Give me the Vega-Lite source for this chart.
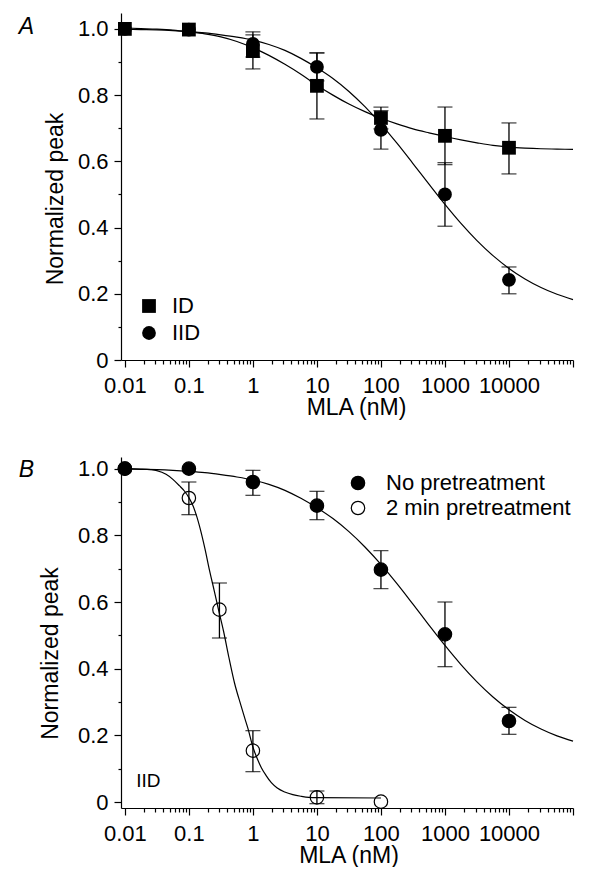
{
  "$schema": "https://vega.github.io/schema/vega-lite/v6.json",
  "autosize": {"type": "pad"},
  "padding": {"left": 18, "top": 13, "right": 5, "bottom": 0},
  "background": "white",
  "bounds": "flush",
  "spacing": 97,
  "datasets": {
    "curvesA": [
      {"s": "ID", "x": 0.01, "y": 1.003}, {"s": "ID", "x": 0.01778, "y": 1.001}, {"s": "ID", "x": 0.03162, "y": 0.999}, {"s": "ID", "x": 0.05623, "y": 0.996},
      {"s": "ID", "x": 0.1, "y": 0.991}, {"s": "ID", "x": 0.1778, "y": 0.985}, {"s": "ID", "x": 0.3162, "y": 0.976}, {"s": "ID", "x": 0.5623, "y": 0.962},
      {"s": "ID", "x": 1, "y": 0.943}, {"s": "ID", "x": 1.778, "y": 0.92}, {"s": "ID", "x": 3.162, "y": 0.893}, {"s": "ID", "x": 5.623, "y": 0.863},
      {"s": "ID", "x": 10, "y": 0.83}, {"s": "ID", "x": 17.78, "y": 0.8}, {"s": "ID", "x": 31.62, "y": 0.773}, {"s": "ID", "x": 56.23, "y": 0.75},
      {"s": "ID", "x": 100, "y": 0.73}, {"s": "ID", "x": 177.8, "y": 0.713}, {"s": "ID", "x": 316.2, "y": 0.698}, {"s": "ID", "x": 562.3, "y": 0.686},
      {"s": "ID", "x": 1000, "y": 0.675}, {"s": "ID", "x": 1778, "y": 0.665}, {"s": "ID", "x": 3162, "y": 0.656}, {"s": "ID", "x": 5623, "y": 0.648},
      {"s": "ID", "x": 10000, "y": 0.643}, {"s": "ID", "x": 17783, "y": 0.64}, {"s": "ID", "x": 31623, "y": 0.638}, {"s": "ID", "x": 56234, "y": 0.637},
      {"s": "ID", "x": 100000, "y": 0.636},
      {"s": "IID", "x": 0.01, "y": 0.999}, {"s": "IID", "x": 0.01778, "y": 0.998}, {"s": "IID", "x": 0.03162, "y": 0.997}, {"s": "IID", "x": 0.05623, "y": 0.995},
      {"s": "IID", "x": 0.1, "y": 0.992}, {"s": "IID", "x": 0.1778, "y": 0.988}, {"s": "IID", "x": 0.3162, "y": 0.982}, {"s": "IID", "x": 0.5623, "y": 0.975},
      {"s": "IID", "x": 1, "y": 0.966}, {"s": "IID", "x": 1.778, "y": 0.953}, {"s": "IID", "x": 3.162, "y": 0.935}, {"s": "IID", "x": 5.623, "y": 0.911},
      {"s": "IID", "x": 10, "y": 0.8826}, {"s": "IID", "x": 17.78, "y": 0.8502}, {"s": "IID", "x": 31.62, "y": 0.8111}, {"s": "IID", "x": 56.23, "y": 0.7651},
      {"s": "IID", "x": 100, "y": 0.7126}, {"s": "IID", "x": 177.8, "y": 0.6548}, {"s": "IID", "x": 316.2, "y": 0.5934}, {"s": "IID", "x": 562.3, "y": 0.5309},
      {"s": "IID", "x": 1000, "y": 0.4698}, {"s": "IID", "x": 1778, "y": 0.4124}, {"s": "IID", "x": 3162, "y": 0.3605}, {"s": "IID", "x": 5623, "y": 0.3151},
      {"s": "IID", "x": 10000, "y": 0.2766}, {"s": "IID", "x": 17783, "y": 0.2448}, {"s": "IID", "x": 31623, "y": 0.219}, {"s": "IID", "x": 56234, "y": 0.1985},
      {"s": "IID", "x": 100000, "y": 0.1824}
    ],
    "pointsA": [
      {"s": "IID", "x": 0.01, "y": 1.0}, {"s": "IID", "x": 0.1, "y": 0.998}, {"s": "IID", "x": 1, "y": 0.955, "lo": 0.915, "hi": 0.991},
      {"s": "IID", "x": 10, "y": 0.885, "lo": 0.843, "hi": 0.927}, {"s": "IID", "x": 100, "y": 0.695, "lo": 0.637, "hi": 0.753},
      {"s": "IID", "x": 1000, "y": 0.5, "lo": 0.404, "hi": 0.596}, {"s": "IID", "x": 10000, "y": 0.242, "lo": 0.2, "hi": 0.281},
      {"s": "ID", "x": 0.01, "y": 1.0}, {"s": "ID", "x": 0.1, "y": 0.998}, {"s": "ID", "x": 1, "y": 0.933, "lo": 0.879, "hi": 0.982},
      {"s": "ID", "x": 10, "y": 0.828, "lo": 0.728, "hi": 0.928}, {"s": "ID", "x": 100, "y": 0.731, "lo": 0.698, "hi": 0.764},
      {"s": "ID", "x": 1000, "y": 0.677, "lo": 0.59, "hi": 0.764}, {"s": "ID", "x": 10000, "y": 0.641, "lo": 0.562, "hi": 0.716}
    ],
    "curvesB": [
      {"s": "No pretreatment", "x": 0.01, "y": 0.999}, {"s": "No pretreatment", "x": 0.01778, "y": 0.998}, {"s": "No pretreatment", "x": 0.03162, "y": 0.997}, {"s": "No pretreatment", "x": 0.05623, "y": 0.995},
      {"s": "No pretreatment", "x": 0.1, "y": 0.992}, {"s": "No pretreatment", "x": 0.1778, "y": 0.988}, {"s": "No pretreatment", "x": 0.3162, "y": 0.982}, {"s": "No pretreatment", "x": 0.5623, "y": 0.975},
      {"s": "No pretreatment", "x": 1, "y": 0.966}, {"s": "No pretreatment", "x": 1.778, "y": 0.953}, {"s": "No pretreatment", "x": 3.162, "y": 0.935}, {"s": "No pretreatment", "x": 5.623, "y": 0.911},
      {"s": "No pretreatment", "x": 10, "y": 0.8826}, {"s": "No pretreatment", "x": 17.78, "y": 0.8502}, {"s": "No pretreatment", "x": 31.62, "y": 0.8111}, {"s": "No pretreatment", "x": 56.23, "y": 0.7651},
      {"s": "No pretreatment", "x": 100, "y": 0.7126}, {"s": "No pretreatment", "x": 177.8, "y": 0.6548}, {"s": "No pretreatment", "x": 316.2, "y": 0.5934}, {"s": "No pretreatment", "x": 562.3, "y": 0.5309},
      {"s": "No pretreatment", "x": 1000, "y": 0.4698}, {"s": "No pretreatment", "x": 1778, "y": 0.4124}, {"s": "No pretreatment", "x": 3162, "y": 0.3605}, {"s": "No pretreatment", "x": 5623, "y": 0.3151},
      {"s": "No pretreatment", "x": 10000, "y": 0.2766}, {"s": "No pretreatment", "x": 17783, "y": 0.2448}, {"s": "No pretreatment", "x": 31623, "y": 0.219}, {"s": "No pretreatment", "x": 56234, "y": 0.1985},
      {"s": "No pretreatment", "x": 100000, "y": 0.1824},
      {"s": "2 min pretreatment", "x": 0.01, "y": 1.0}, {"s": "2 min pretreatment", "x": 0.0178, "y": 0.999}, {"s": "2 min pretreatment", "x": 0.0255, "y": 0.997},
      {"s": "2 min pretreatment", "x": 0.0316, "y": 0.994}, {"s": "2 min pretreatment", "x": 0.044, "y": 0.983}, {"s": "2 min pretreatment", "x": 0.0562, "y": 0.968},
      {"s": "2 min pretreatment", "x": 0.071, "y": 0.949}, {"s": "2 min pretreatment", "x": 0.085, "y": 0.933}, {"s": "2 min pretreatment", "x": 0.1, "y": 0.913},
      {"s": "2 min pretreatment", "x": 0.115, "y": 0.89}, {"s": "2 min pretreatment", "x": 0.13, "y": 0.862}, {"s": "2 min pretreatment", "x": 0.15, "y": 0.82},
      {"s": "2 min pretreatment", "x": 0.178, "y": 0.76}, {"s": "2 min pretreatment", "x": 0.21, "y": 0.695}, {"s": "2 min pretreatment", "x": 0.25, "y": 0.632},
      {"s": "2 min pretreatment", "x": 0.29, "y": 0.577}, {"s": "2 min pretreatment", "x": 0.35, "y": 0.51}, {"s": "2 min pretreatment", "x": 0.42, "y": 0.435},
      {"s": "2 min pretreatment", "x": 0.516, "y": 0.357}, {"s": "2 min pretreatment", "x": 0.65, "y": 0.29}, {"s": "2 min pretreatment", "x": 0.75, "y": 0.25},
      {"s": "2 min pretreatment", "x": 0.838, "y": 0.22}, {"s": "2 min pretreatment", "x": 1.0, "y": 0.165}, {"s": "2 min pretreatment", "x": 1.18, "y": 0.128},
      {"s": "2 min pretreatment", "x": 1.355, "y": 0.103}, {"s": "2 min pretreatment", "x": 1.6, "y": 0.08}, {"s": "2 min pretreatment", "x": 1.94, "y": 0.058},
      {"s": "2 min pretreatment", "x": 2.4, "y": 0.042}, {"s": "2 min pretreatment", "x": 3.14, "y": 0.03}, {"s": "2 min pretreatment", "x": 4.2, "y": 0.022},
      {"s": "2 min pretreatment", "x": 5.74, "y": 0.017}, {"s": "2 min pretreatment", "x": 7.5, "y": 0.014}, {"s": "2 min pretreatment", "x": 10, "y": 0.013},
      {"s": "2 min pretreatment", "x": 100, "y": 0.012}
    ],
    "pointsB": [
      {"s": "2 min pretreatment", "x": 0.01, "y": 1.0}, {"s": "2 min pretreatment", "x": 0.1, "y": 0.912, "lo": 0.862, "hi": 0.96},
      {"s": "2 min pretreatment", "x": 0.3, "y": 0.577, "lo": 0.492, "hi": 0.657}, {"s": "2 min pretreatment", "x": 1, "y": 0.154, "lo": 0.091, "hi": 0.214},
      {"s": "2 min pretreatment", "x": 10, "y": 0.014, "lo": -0.005, "hi": 0.033}, {"s": "2 min pretreatment", "x": 100, "y": 0.001},
      {"s": "No pretreatment", "x": 0.01, "y": 1.0}, {"s": "No pretreatment", "x": 0.1, "y": 1.0}, {"s": "No pretreatment", "x": 1, "y": 0.96, "lo": 0.92, "hi": 0.995},
      {"s": "No pretreatment", "x": 10, "y": 0.889, "lo": 0.847, "hi": 0.932}, {"s": "No pretreatment", "x": 100, "y": 0.697, "lo": 0.64, "hi": 0.754},
      {"s": "No pretreatment", "x": 1000, "y": 0.503, "lo": 0.406, "hi": 0.6}, {"s": "No pretreatment", "x": 10000, "y": 0.243, "lo": 0.203, "hi": 0.284}
    ]
  },
  "vconcat": [
    {
      "width": 452,
      "height": 347,
      "resolve": {"axis": {"x": "independent", "y": "independent"}},
      "layer": [
        {
          "data": {"name": "curvesA"},
          "mark": {"type": "line", "color": "black", "strokeWidth": 1.2, "interpolate": "monotone"},
          "encoding": {
            "x": {"field": "x", "type": "quantitative", "scale": {"type": "log", "domain": [0.0087, 100000], "nice": false},
                  "axis": {"orient": "bottom", "values": [0.01, 0.1, 1, 10, 100, 1000, 10000, 100000], "tickSize": 7, "labelPadding": 8, "labelFlush": false, "labelOverlap": false,
                           "labelExpr": "datum.value > 50000 ? '' : toString(datum.value)", "title": "MLA (nM)", "titleX": 235, "titleY": 54, "titleBaseline": "alphabetic", "titleAlign": "center", "grid": false}},
            "y": {"field": "y", "type": "quantitative", "scale": {"domain": [0, 1.048], "nice": false, "zero": false},
                  "axis": {"orient": "left", "values": [0, 0.2, 0.4, 0.6, 0.8, 1], "tickSize": 7, "labelPadding": 6, "labelExpr": "datum.value == 0 ? '0' : format(datum.value, '.1f')",
                           "title": "Normalized peak", "titleX": -58.5, "titleY": 185.5, "titleAngle": 270, "titleBaseline": "alphabetic", "titleAlign": "center", "grid": false}},
            "detail": {"field": "s"}
          }
        },
        {
          "data": {"name": "pointsA"},
          "transform": [{"filter": "isValid(datum.lo)"}],
          "mark": {"type": "rule", "color": "black", "strokeWidth": 1.3},
          "encoding": {
            "x": {"field": "x", "type": "quantitative", "axis": {"orient": "bottom", "values": [0.02,0.03,0.04,0.05,0.06,0.07,0.08,0.09,0.2,0.3,0.4,0.5,0.6,0.7,0.8,0.9,2,3,4,5,6,7,8,9,20,30,40,50,60,70,80,90,200,300,400,500,600,700,800,900,2000,3000,4000,5000,6000,7000,8000,9000,20000,30000,40000,50000,60000,70000,80000,90000], "tickSize": 4, "labels": false, "domain": false, "title": null, "grid": false}},
            "y": {"field": "lo", "type": "quantitative", "axis": {"orient": "left", "values": [0.1, 0.3, 0.5, 0.7, 0.9], "tickSize": 3, "labels": false, "domain": false, "title": null, "grid": false}},
            "y2": {"field": "hi"}
          }
        },
        {
          "data": {"name": "pointsA"},
          "transform": [{"filter": "isValid(datum.lo)"}],
          "mark": {"type": "tick", "orient": "horizontal", "color": "black", "size": 15, "thickness": 1.3},
          "encoding": {
            "x": {"field": "x", "type": "quantitative", "axis": null},
            "y": {"field": "lo", "type": "quantitative", "axis": null}
          }
        },
        {
          "data": {"name": "pointsA"},
          "transform": [{"filter": "isValid(datum.hi)"}],
          "mark": {"type": "tick", "orient": "horizontal", "color": "black", "size": 15, "thickness": 1.3},
          "encoding": {
            "x": {"field": "x", "type": "quantitative", "axis": null},
            "y": {"field": "hi", "type": "quantitative", "axis": null}
          }
        },
        {
          "data": {"name": "pointsA"},
          "mark": {"type": "point", "filled": true, "color": "black", "size": 190, "opacity": 1},
          "encoding": {
            "x": {"field": "x", "type": "quantitative", "axis": null},
            "y": {"field": "y", "type": "quantitative", "axis": null},
            "shape": {"field": "s", "type": "nominal", "scale": {"domain": ["ID", "IID"], "range": ["square", "circle"]},
                      "legend": {"orient": "none", "legendX": 17, "legendY": 282, "title": null, "labelFontSize": 22, "labelFont": "Liberation Sans", "labelColor": "black", "labelLimit": 400,
                                 "symbolSize": 190, "symbolFillColor": "black", "symbolStrokeWidth": 0, "labelOffset": 12, "rowPadding": 5, "padding": 0}}
          }
        },
        {
          "data": {"values": [{}]},
          "mark": {"type": "text", "align": "left", "baseline": "alphabetic", "fontSize": 23, "fontStyle": "italic", "font": "Liberation Sans", "color": "black"},
          "encoding": {
            "x": {"datum": 0.00022, "type": "quantitative", "axis": null},
            "y": {"datum": 0.985, "type": "quantitative", "axis": null},
            "text": {"value": "A"}
          }
        }
      ]
    },
    {
      "width": 452,
      "height": 351,
      "resolve": {"axis": {"x": "independent", "y": "independent"}},
      "layer": [
        {
          "data": {"name": "curvesB"},
          "mark": {"type": "line", "color": "black", "strokeWidth": 1.2, "interpolate": "monotone"},
          "encoding": {
            "x": {"field": "x", "type": "quantitative", "scale": {"type": "log", "domain": [0.0087, 100000], "nice": false},
                  "axis": {"orient": "bottom", "values": [0.01, 0.1, 1, 10, 100, 1000, 10000, 100000], "tickSize": 7, "labelPadding": 8, "labelFlush": false, "labelOverlap": false,
                           "labelExpr": "datum.value > 50000 ? '' : toString(datum.value)", "title": "MLA (nM)", "titleX": 227.5, "titleY": 54, "titleBaseline": "alphabetic", "titleAlign": "center", "grid": false}},
            "y": {"field": "y", "type": "quantitative", "scale": {"domain": [-0.018, 1.035], "nice": false, "zero": false},
                  "axis": {"orient": "left", "values": [0, 0.2, 0.4, 0.6, 0.8, 1], "tickSize": 7, "labelPadding": 6, "labelExpr": "datum.value == 0 ? '0' : format(datum.value, '.1f')",
                           "title": "Normalized peak", "titleX": -63.5, "titleY": 196, "titleAngle": 270, "titleBaseline": "alphabetic", "titleAlign": "center", "grid": false}},
            "detail": {"field": "s"}
          }
        },
        {
          "data": {"name": "pointsB"},
          "transform": [{"filter": "isValid(datum.lo)"}],
          "mark": {"type": "rule", "color": "black", "strokeWidth": 1.3},
          "encoding": {
            "x": {"field": "x", "type": "quantitative", "axis": {"orient": "bottom", "values": [0.02,0.03,0.04,0.05,0.06,0.07,0.08,0.09,0.2,0.3,0.4,0.5,0.6,0.7,0.8,0.9,2,3,4,5,6,7,8,9,20,30,40,50,60,70,80,90,200,300,400,500,600,700,800,900,2000,3000,4000,5000,6000,7000,8000,9000,20000,30000,40000,50000,60000,70000,80000,90000], "tickSize": 4, "labels": false, "domain": false, "title": null, "grid": false}},
            "y": {"field": "lo", "type": "quantitative", "axis": {"orient": "left", "values": [0.1, 0.3, 0.5, 0.7, 0.9], "tickSize": 3, "labels": false, "domain": false, "title": null, "grid": false}},
            "y2": {"field": "hi"}
          }
        },
        {
          "data": {"name": "pointsB"},
          "transform": [{"filter": "isValid(datum.lo)"}],
          "mark": {"type": "tick", "orient": "horizontal", "color": "black", "size": 15, "thickness": 1.3},
          "encoding": {
            "x": {"field": "x", "type": "quantitative", "axis": null},
            "y": {"field": "lo", "type": "quantitative", "axis": null}
          }
        },
        {
          "data": {"name": "pointsB"},
          "transform": [{"filter": "isValid(datum.hi)"}],
          "mark": {"type": "tick", "orient": "horizontal", "color": "black", "size": 15, "thickness": 1.3},
          "encoding": {
            "x": {"field": "x", "type": "quantitative", "axis": null},
            "y": {"field": "hi", "type": "quantitative", "axis": null}
          }
        },
        {
          "data": {"name": "pointsB"},
          "mark": {"type": "point", "shape": "circle", "size": 180, "stroke": "black", "strokeWidth": 1.2, "opacity": 1},
          "encoding": {
            "x": {"field": "x", "type": "quantitative", "axis": null},
            "y": {"field": "y", "type": "quantitative", "axis": null},
            "fill": {"field": "s", "type": "nominal", "scale": {"domain": ["No pretreatment", "2 min pretreatment"], "range": ["black", "transparent"]},
                     "legend": {"orient": "none", "legendX": 226, "legendY": 459, "title": null, "labelFontSize": 22, "labelFont": "Liberation Sans", "labelColor": "black", "labelLimit": 400,
                                "symbolSize": 180, "symbolType": "circle", "symbolStrokeColor": "black", "symbolStrokeWidth": 1.2, "labelOffset": 17, "rowPadding": 3, "padding": 0}}
          }
        },
        {
          "data": {"values": [{}]},
          "mark": {"type": "text", "align": "left", "baseline": "alphabetic", "fontSize": 19, "font": "Liberation Sans", "color": "black"},
          "encoding": {
            "x": {"datum": 0.015, "type": "quantitative", "axis": null},
            "y": {"datum": 0.045, "type": "quantitative", "axis": null},
            "text": {"value": "IID"}
          }
        },
        {
          "data": {"values": [{}]},
          "mark": {"type": "text", "align": "left", "baseline": "alphabetic", "fontSize": 23, "fontStyle": "italic", "font": "Liberation Sans", "color": "black"},
          "encoding": {
            "x": {"datum": 0.00022, "type": "quantitative", "axis": null},
            "y": {"datum": 0.976, "type": "quantitative", "axis": null},
            "text": {"value": "B"}
          }
        }
      ]
    }
  ],
  "config": {
    "font": "Liberation Sans",
    "view": {"stroke": null},
    "axis": {"domainColor": "black", "domainWidth": 1.2, "tickColor": "black", "tickWidth": 1.2, "labelColor": "black", "titleColor": "black",
             "labelFontSize": 22, "titleFontSize": 23, "titleFontWeight": "normal", "labelFont": "Liberation Sans", "titleFont": "Liberation Sans", "grid": false}
  }
}
